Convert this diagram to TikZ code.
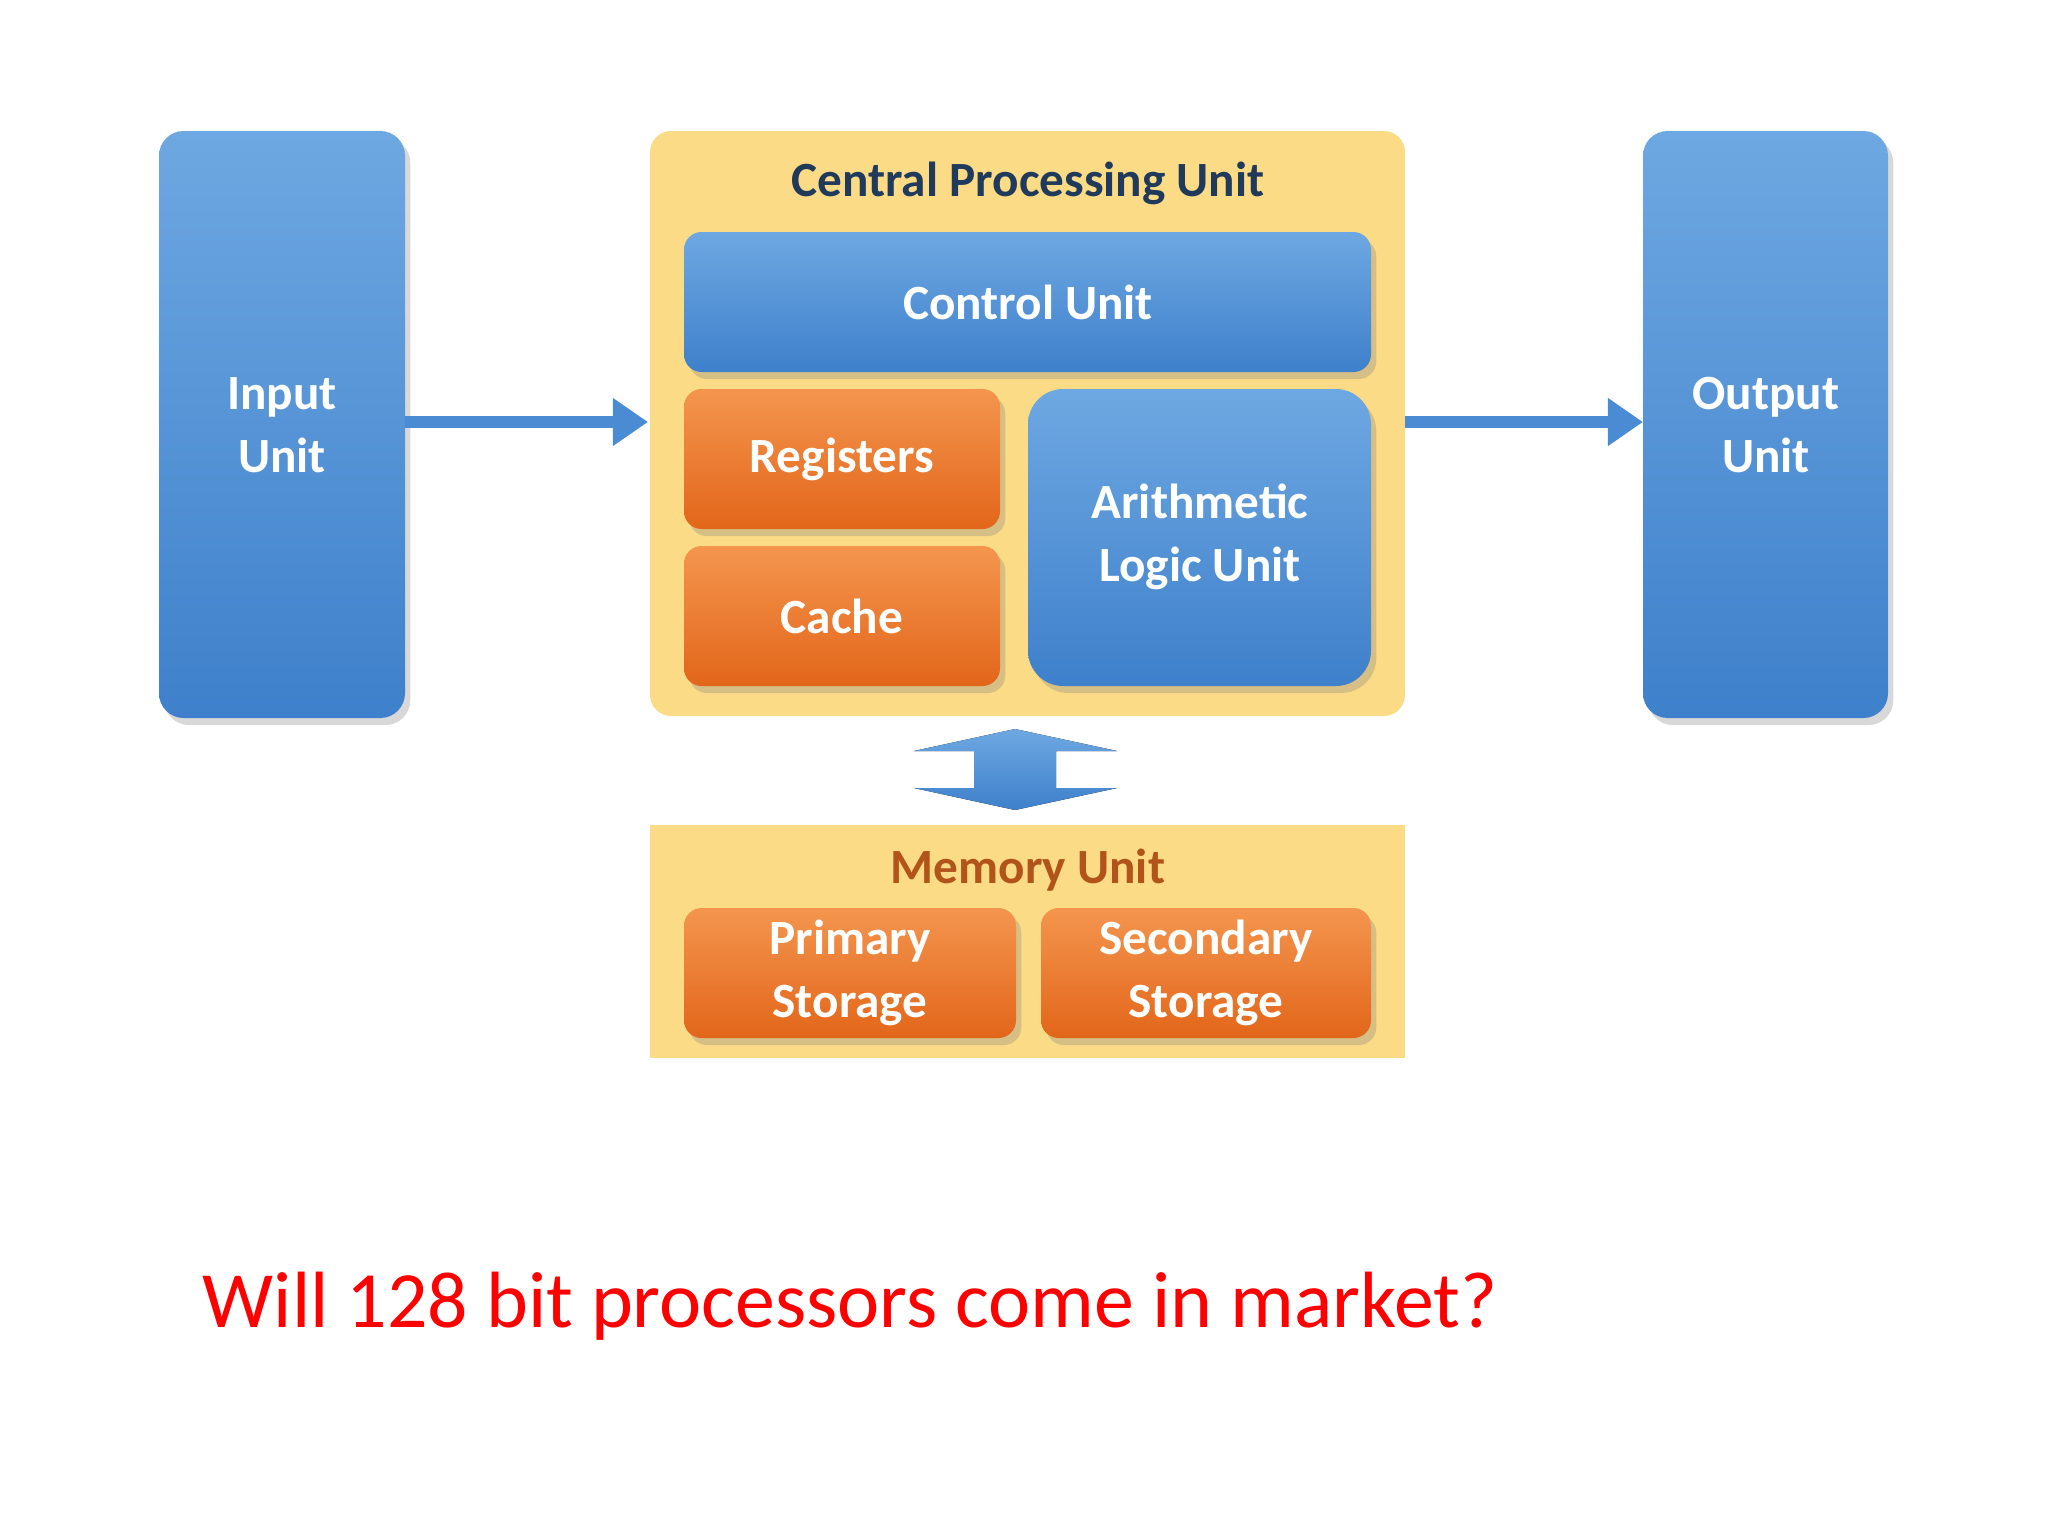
\documentclass[tikz,border=0pt]{standalone}
\usepackage{fontspec}
\setmainfont{Carlito}
\usetikzlibrary{shadows,arrows.meta}
\definecolor{bluetop}{HTML}{6EA8E2}
\definecolor{bluebot}{HTML}{3E80CB}
\definecolor{ortop}{HTML}{F4954E}
\definecolor{orbot}{HTML}{E2661A}
\definecolor{yel}{HTML}{FCDB86}
\definecolor{navy}{HTML}{1F3A5A}
\definecolor{brown}{HTML}{B2541A}
\definecolor{arr}{HTML}{4A8BD3}
\tikzset{
 blk/.style={rounded corners=5pt, drop shadow={shadow xshift=1.5pt,shadow yshift=-2pt,opacity=0.3}},
 bluebox/.style={blk, top color=bluetop, bottom color=bluebot},
 orbox/.style={blk, top color=ortop, bottom color=orbot},
 lbl/.style={white, font=\bfseries\fontsize{14}{18}\selectfont, align=center},
 flow/.style={arr, line width=3.5pt, -{Triangle[length=10pt,width=13pt]}}
}
\begin{document}
\begin{tikzpicture}[x=0.01cm,y=-0.01cm]
\useasboundingbox (0,0) rectangle (2048,1536);
\fill[white] (0,0) rectangle (2048,1536);
% CPU container
\fill[yel, rounded corners=6pt] (650,131) rectangle (1405,716);
\node[navy, font=\bfseries\fontsize{14}{18}\selectfont] (cput) at (1028,183) {Central Processing Unit};
\path[bluebox] (684,232) rectangle (1371,372);
\node[lbl] (cu) at (1028,302) {Control Unit};
\path[orbox] (684,389) rectangle (1000,529);
\node[lbl] (reg) at (842,459) {Registers};
\path[orbox] (684,546) rectangle (1000,686);
\node[lbl] (cache) at (842,616) {Cache};
\path[bluebox, rounded corners=10pt] (1028,389) rectangle (1371,686);
\node[lbl] (alu) at (1200,537) {Arithmetic\\Logic Unit};
% Input / Output
\path[bluebox, rounded corners=7pt] (159,131) rectangle (405,718);
\node[lbl] (in) at (282,425) {Input\\Unit};
\path[bluebox, rounded corners=7pt] (1643,131) rectangle (1888,718);
\node[lbl] (out) at (1766,425) {Output\\Unit};
\coordinate (inR) at (405,422);
\coordinate (cpuL) at (648,422);
\coordinate (cpuR) at (1405,422);
\coordinate (outL) at (1643,422);
\draw[flow] (inR) -- (cpuL);
\draw[flow] (cpuR) -- (outL);
% double arrow
\fill[top color=bluetop, bottom color=bluebot] (1015,729) -- (1117,751) -- (1056,751) -- (1056,788) -- (1117,788) -- (1015,810) -- (914,788) -- (974,788) -- (974,751) -- (914,751) -- cycle;
% Memory
\fill[yel] (650,825) rectangle (1405,1058);
\node[brown, font=\bfseries\fontsize{14}{18}\selectfont] (mu) at (1028,870) {Memory Unit};
\path[orbox] (684,908) rectangle (1016,1038);
\node[lbl] (ps) at (850,973) {Primary\\Storage};
\path[orbox] (1041,908) rectangle (1371,1038);
\node[lbl] (ss) at (1206,973) {Secondary\\Storage};
% question
\node[red, anchor=west, font=\fontsize{22.7}{27}\selectfont, inner sep=0] (q) at (202,1306) {Will 128 bit processors come in market?};
\end{tikzpicture}
\end{document}
